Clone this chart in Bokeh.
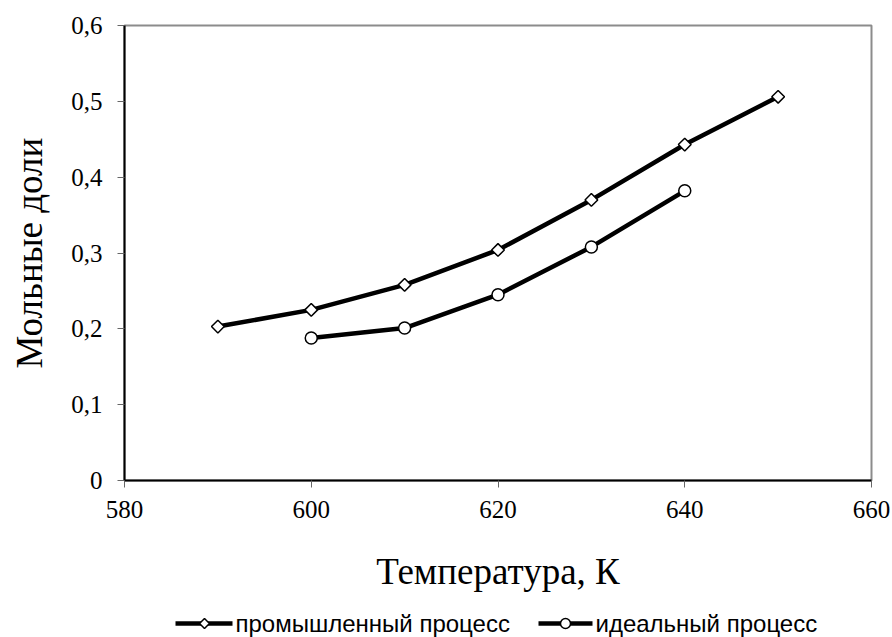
import math
from bokeh.plotting import figure
from bokeh.layouts import column
from bokeh.models import Range1d, FixedTicker, CustomJSTickFormatter
from bokeh.core.properties import value
from bokeh.embed import file_html
from bokeh.resources import INLINE

temp_ind = [590, 600, 610, 620, 630, 640, 650]
frac_ind = [0.203, 0.225, 0.258, 0.304, 0.370, 0.443, 0.506]
temp_ideal = [600, 610, 620, 630, 640]
frac_ideal = [0.188, 0.201, 0.245, 0.308, 0.382]
x_ticks = [580, 600, 620, 640, 660]
y_ticks = [0, 0.1, 0.2, 0.3, 0.4, 0.5, 0.6]
name_ind = "промышленный процесс"
name_ideal = "идеальный процесс"

p = figure(width=892, height=600, output_backend="svg", toolbar_location=None,
           x_range=Range1d(580, 660), y_range=Range1d(0, 0.6),
           min_border_left=124, min_border_top=25, min_border_right=21, min_border_bottom=120)
p.xgrid.visible = False
p.ygrid.visible = False
p.outline_line_color = "#8c8c8c"
p.outline_line_width = 2

for ax in (p.xaxis[0], p.yaxis[0]):
    ax.axis_line_color = "black"
    ax.axis_line_width = 2
    ax.major_tick_line_color = "#666666"
    ax.major_tick_out = 7
    ax.major_tick_in = 0
    ax.minor_tick_line_color = None
    ax.major_label_text_font = "Liberation Serif"
    ax.major_label_text_font_size = "25px"
    ax.major_label_text_color = "black"
    ax.axis_label_text_font = "Liberation Serif"
    ax.axis_label_text_font_size = "37px"
    ax.axis_label_text_font_style = "normal"
    ax.axis_label_text_color = "black"

p.xaxis.ticker = FixedTicker(ticks=x_ticks)
p.yaxis.ticker = FixedTicker(ticks=y_ticks)
p.yaxis.formatter = CustomJSTickFormatter(code="return tick === 0 ? '0' : tick.toFixed(1).replace('.', ',');")
p.xaxis.axis_label = "Температура, К"
p.yaxis.axis_label = "Мольные доли"
p.xaxis.major_label_standoff = 13
p.yaxis.major_label_standoff = 15
p.xaxis.axis_label_standoff = 30
p.yaxis.axis_label_standoff = 18

line_style = dict(line_color="black", line_width=4.5)

p.line(temp_ind, frac_ind, **line_style)
p.scatter(temp_ind, frac_ind, marker="square", size=9, angle=math.pi / 4,
          fill_color="white", line_color="black", line_width=1.5)
p.line(temp_ideal, frac_ideal, **line_style)
p.scatter(temp_ideal, frac_ideal, marker="circle", size=12, fill_color="white",
          line_color="black", line_width=1.5)

# legend strip below the chart (pixel coordinates, same side borders as the chart)
q = figure(width=892, height=37, output_backend="svg", toolbar_location=None,
           x_range=Range1d(0, 747), y_range=Range1d(0, 37),
           x_axis_type=None, y_axis_type=None,
           min_border_left=124, min_border_right=21, min_border_top=0, min_border_bottom=0)
q.xgrid.visible = False
q.ygrid.visible = False
q.outline_line_color = None

q.segment(x0=[51, 414], y0=[14, 14], x1=[108, 468], y1=[14, 14], **line_style)
q.scatter(x=[80], y=[14], marker="square", size=7, angle=math.pi / 4,
          fill_color="white", line_color="black", line_width=1.5)
q.scatter(x=[441], y=[14], marker="circle", size=10, fill_color="white",
          line_color="black", line_width=1.5)
q.text(x=[111, 471], y=[14, 14], text=[name_ind, name_ideal],
       text_font=value("Liberation Sans"), text_font_size="24px",
       text_color="black", text_baseline="middle", text_align="left")

layout = column(p, q, spacing=0)
open("out.html", "w").write(file_html(layout, INLINE))
